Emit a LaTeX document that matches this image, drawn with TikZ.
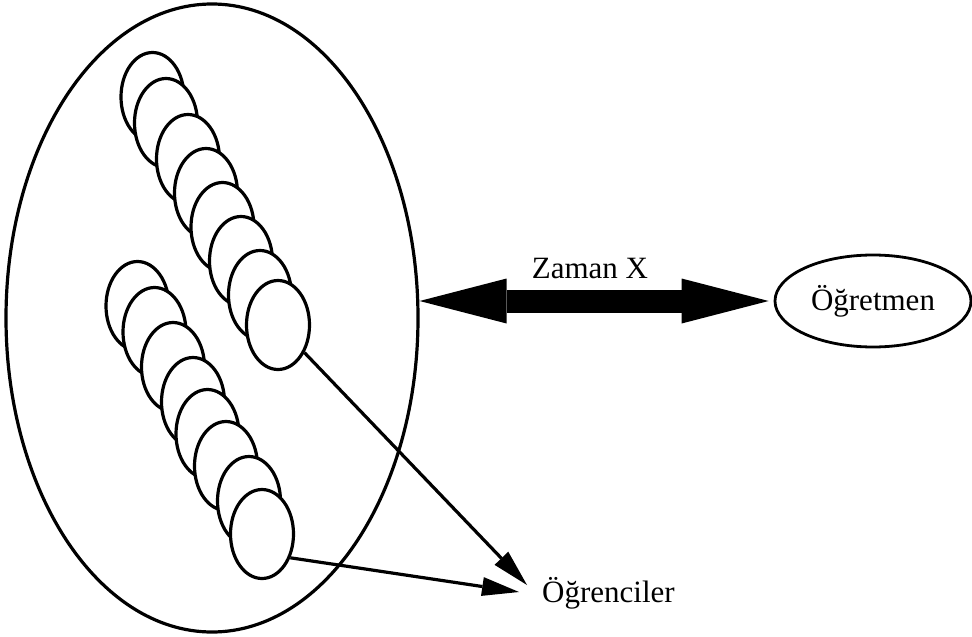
\documentclass[tikz,border=0pt]{standalone}
\usepackage{fontspec}
\setmainfont{Liberation Serif}
\usetikzlibrary{shapes.geometric,arrows.meta}
\begin{document}
\begin{tikzpicture}[x=1pt,y=-1pt,
  stud/.style={ellipse, draw, line width=3.2pt, fill=white, minimum width=63pt, minimum height=89pt, inner sep=0pt},
  lbl/.style={font=\fontsize{31}{37}\selectfont, inner sep=0pt},
  conn/.style={line width=3.2pt, -{Triangle[length=37pt,width=19pt,line width=0pt]}},
  bigarrow/.style={line width=23pt, {Triangle[length=87pt,width=45pt,line width=0pt]}-{Triangle[length=87pt,width=45pt,line width=0pt]}}]
\useasboundingbox (0,0) rectangle (972,637);
% class ellipse
\node[ellipse, draw, line width=3.2pt, minimum width=412pt, minimum height=628pt, inner sep=0pt] (big) at (212,318) {};
% top row of students
\node[stud] (t1) at (152.5,97) {};
\node[stud] (t2) at (166,123) {};
\node[stud] (t3) at (188,159) {};
\node[stud] (t4) at (206,193) {};
\node[stud] (t5) at (222.5,227) {};
\node[stud] (t6) at (241,261) {};
\node[stud] (t7) at (260,295) {};
\node[stud] (t8) at (278,325) {};
% bottom row of students
\node[stud] (b1) at (137.5,306) {};
\node[stud] (b2) at (154.5,332) {};
\node[stud] (b3) at (173,367) {};
\node[stud] (b4) at (193,402) {};
\node[stud] (b5) at (207.5,434) {};
\node[stud] (b6) at (226,466) {};
\node[stud] (b7) at (249,501) {};
\node[stud] (b8) at (262,534) {};
% teacher
\node[ellipse, draw, line width=2.8pt, minimum width=196pt, minimum height=92pt, inner sep=0pt, font=\fontsize{31}{37}\selectfont] (ogt) at (873,301) {Öğretmen};
% labels
\node[lbl, anchor=base] (zx) at (590,278) {Zaman X};
\node[lbl, anchor=base west] (ogr) at (542,602) {Öğrenciler};
\coordinate (tipA) at (527,585);
\coordinate (tipB) at (519,592);
% connectors
\draw[bigarrow] (big.east |- ogt) -- ([xshift=-5pt]ogt.west);
\draw[conn] (t8) -- (tipA);
\draw[conn] (b8.-40) -- (tipB);
\end{tikzpicture}
\end{document}
